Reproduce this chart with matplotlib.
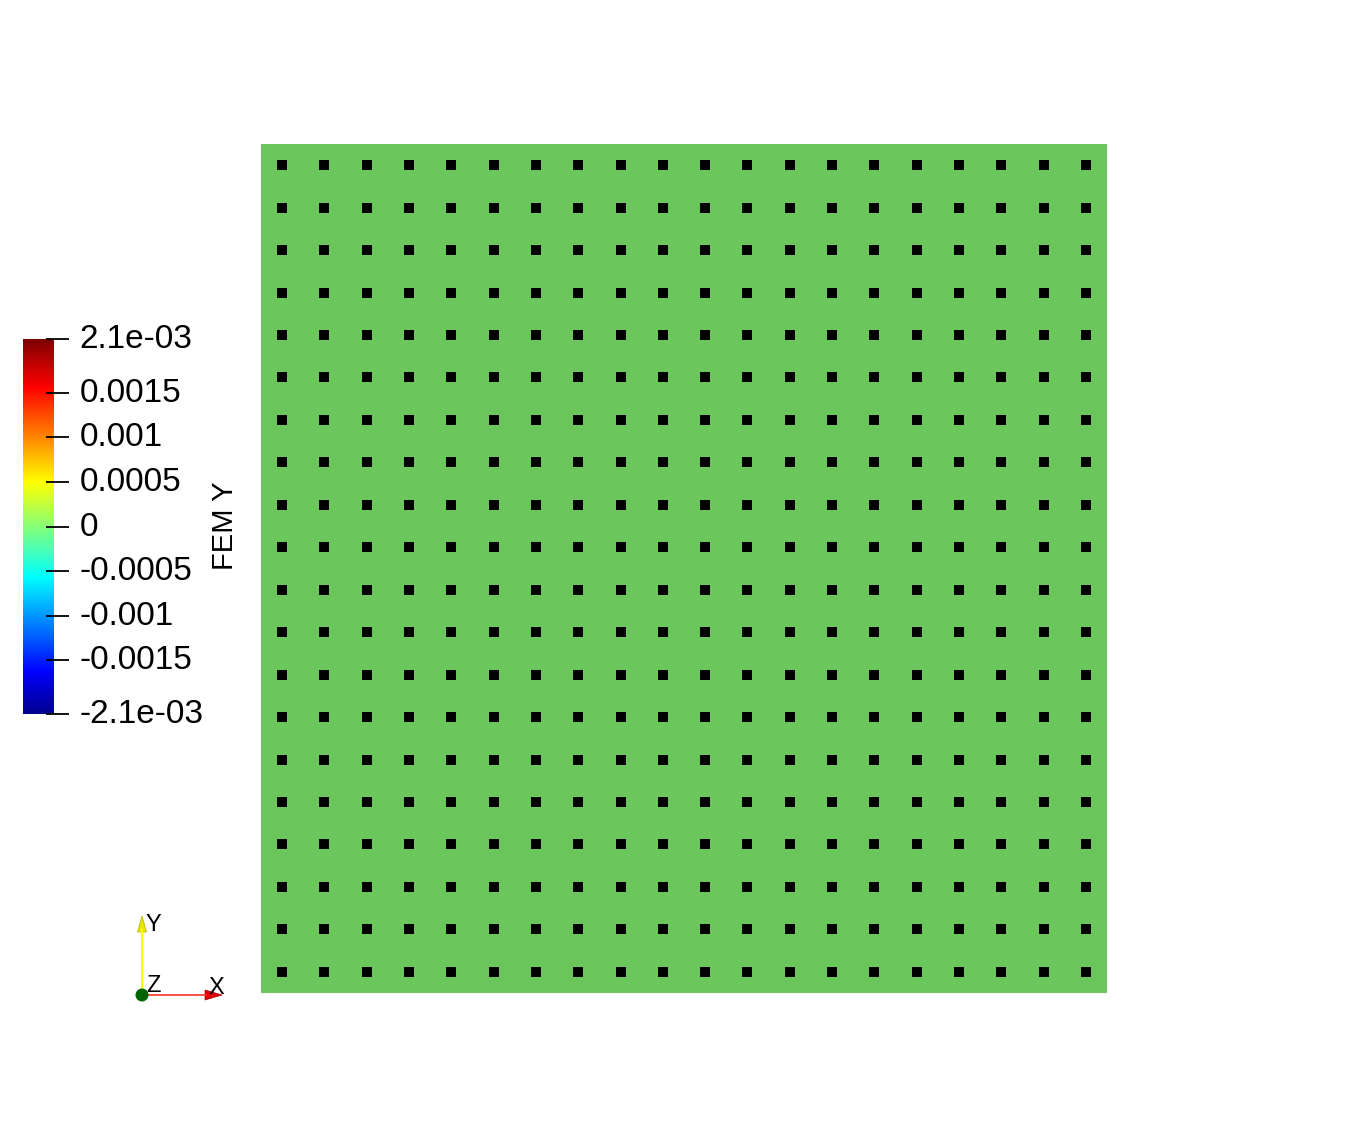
import numpy as np
import matplotlib
matplotlib.use('Agg')
import matplotlib.pyplot as plt
from matplotlib.colors import LinearSegmentedColormap, Normalize
from matplotlib.patches import Polygon, Circle
from matplotlib import transforms

plt.rcParams['font.family'] = ['Liberation Sans', 'DejaVu Sans']

# mesh: 20 x 20 cells on a unit square, FEM Y value per cell
N_CELLS = 20
cell_edges = np.linspace(0.0, 1.0, N_CELLS + 1)
cell_centers = (cell_edges[:-1] + cell_edges[1:]) / 2
fem_y = np.zeros((N_CELLS, N_CELLS))

v_min, v_max = -2.1e-03, 2.1e-03
tick_values = [-2.1e-03, -0.0015, -0.001, -0.0005, 0, 0.0005, 0.001, 0.0015, 2.1e-03]
tick_labels = ['-2.1e-03', '-0.0015', '-0.001', '-0.0005', '0',
               '0.0005', '0.001', '0.0015', '2.1e-03']

# ParaView-like "Jet" preset
jet_nodes = [
    (0.000, (0.0, 0.0, 0.5625)),
    (0.111, (0.0, 0.0, 1.0)),
    (0.365, (0.0, 1.0, 1.0)),
    (0.492, (0.5, 1.0, 0.5)),
    (0.619, (1.0, 1.0, 0.0)),
    (0.873, (1.0, 0.0, 0.0)),
    (1.000, (0.5, 0.0, 0.0)),
]
jet = LinearSegmentedColormap.from_list('pv_jet', jet_nodes)
# surface is lit, so rendered colours come out darker than the legend
shade = 0.78
lit_nodes = [(p, tuple(min(1.0, c * shade) for c in rgb)) for p, rgb in jet_nodes]
jet_lit = LinearSegmentedColormap.from_list('pv_jet_lit', lit_nodes)

W, H = 1368, 1138
fig = plt.figure(figsize=(W / 100, H / 100), dpi=100)

# mesh
ax = fig.add_axes([261 / W, (H - 993) / H, 846 / W, 849 / H])
ax.pcolormesh(cell_edges, cell_edges, fem_y, cmap=jet_lit, vmin=v_min, vmax=v_max,
              shading='flat', edgecolors='none')
gx, gy = np.meshgrid(cell_centers, cell_centers)
ax.plot(gx.ravel(), gy.ravel(), 's', color='black', markersize=7.2, markeredgewidth=0)
ax.set_xlim(0, 1)
ax.set_ylim(0, 1)
ax.axis('off')

# colour legend
cax = fig.add_axes([23 / W, (H - 714) / H, 31 / W, 375 / H])
grad = np.linspace(v_min, v_max, 512).reshape(-1, 1)
cax.imshow(grad, cmap=jet, origin='lower', aspect='auto',
           extent=(0, 1, v_min, v_max), norm=Normalize(v_min, v_max))
cax.set_xlim(0, 1)
cax.set_ylim(v_min, v_max)
for s in cax.spines.values():
    s.set_visible(False)
cax.set_xticks([])
cax.yaxis.tick_right()
cax.set_yticks(tick_values)
cax.set_yticklabels(tick_labels, fontsize=24)
cax.tick_params(axis='y', length=0, pad=18.5)
lift = transforms.ScaledTranslation(0, 3 / 100, fig.dpi_scale_trans)
for lab in cax.get_yticklabels():
    lab.set_transform(lab.get_transform() + lift)
trans = transforms.blended_transform_factory(cax.transAxes, cax.transData)
cax.hlines(tick_values, 0.75, 1.47, colors='black', linewidth=1.3,
           transform=trans, clip_on=False)
fig.text(225 / W, 1 - 526 / H, 'FEM Y', rotation=90, fontsize=21,
         ha='center', va='center')

# orientation triad (pixel units)
tax = fig.add_axes([110 / W, (H - 1010) / H, 130 / W, 110 / H])
tax.set_xlim(110, 240)
tax.set_ylim(1010, 900)
tax.axis('off')
ox, oy = 142, 995
tax.plot([ox, ox], [oy, 930], color='#ffff00', linewidth=1.5)
tax.add_patch(Polygon([[ox - 4.5, 932], [ox + 4.5, 932], [ox, 916]],
                      closed=True, facecolor='#e6e600', edgecolor='#b0b000', linewidth=0.5))
tax.plot([ox, 206], [oy, oy], color='#ff3030', linewidth=1.2)
tax.add_patch(Polygon([[205, oy - 5], [205, oy + 5], [222, oy]],
                      closed=True, facecolor='#e00000', edgecolor='#a00000', linewidth=0.5))
tax.add_patch(Circle((ox, oy), 6.5, facecolor='#006400', edgecolor='none', zorder=5))
tax.text(146, 925, 'Y', fontsize=17, ha='left', va='center')
tax.text(146, 986, 'Z', fontsize=17, ha='left', va='center')
tax.text(208, 988, 'X', fontsize=17, ha='left', va='center')

fig.savefig('out.png', dpi=100)
